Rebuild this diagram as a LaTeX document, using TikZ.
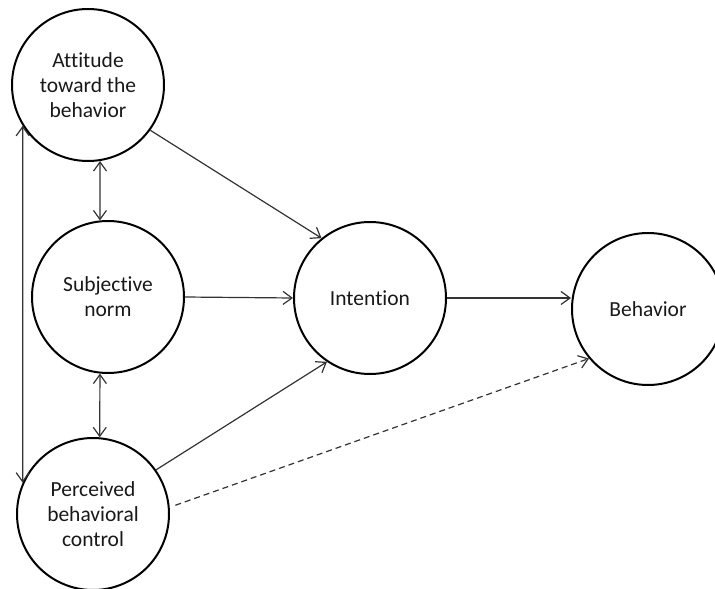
\documentclass[tikz,border=0pt]{standalone}
\usepackage{fontspec}
\setmainfont{Carlito}[Ligatures=NoCommon]
\usetikzlibrary{arrows.meta}
\tikzset{
  construct/.style={circle, draw=black, line width=2pt, minimum size=152pt, inner sep=0pt, align=center, text=black!90,
    font=\fontsize{21.5}{25}\selectfont},
  link/.style={draw=black!80, line width=1.2pt, -{Straight Barb[length=9pt,width=13pt]}},
  dlink/.style={draw=black!80, line width=1.2pt, {Straight Barb[length=9pt,width=13pt]}-{Straight Barb[length=9pt,width=13pt]}},
  dashlink/.style={link, dash pattern=on 6pt off 4pt}
}
\begin{document}
\begin{tikzpicture}[x=1pt,y=-1pt]
\useasboundingbox (0,0) rectangle (715,589);
\clip (0,0) rectangle (715,589);
\node[construct] (att) at (88,85) {Attitude\\toward the\\behavior};
\node[construct] (sub) at (108,297) {Subjective\\norm};
\node[construct] (pbc) at (93,514) {Perceived\\behavioral\\control};
\node[construct] (int) at (370,298) {Intention};
\node[construct] (beh) at (648,309) {Behavior};

\draw[link] (att.-36) -- (int.129);
\draw[link] (sub.east) -- (int.west);
\draw[link] (pbc.35) -- (int.-124);
\draw[link] (int.east) -- (beh.west |- int.east);
\draw[dashlink, shorten <=6pt] (pbc.5) -- (beh.-140);
\draw[dlink] (att.-81.6) -- (sub.96.8);
\draw[dlink] (sub.-96) -- (pbc.85.5);
\draw[dlink] (att.-148) -- (pbc.156);
\end{tikzpicture}
\end{document}
